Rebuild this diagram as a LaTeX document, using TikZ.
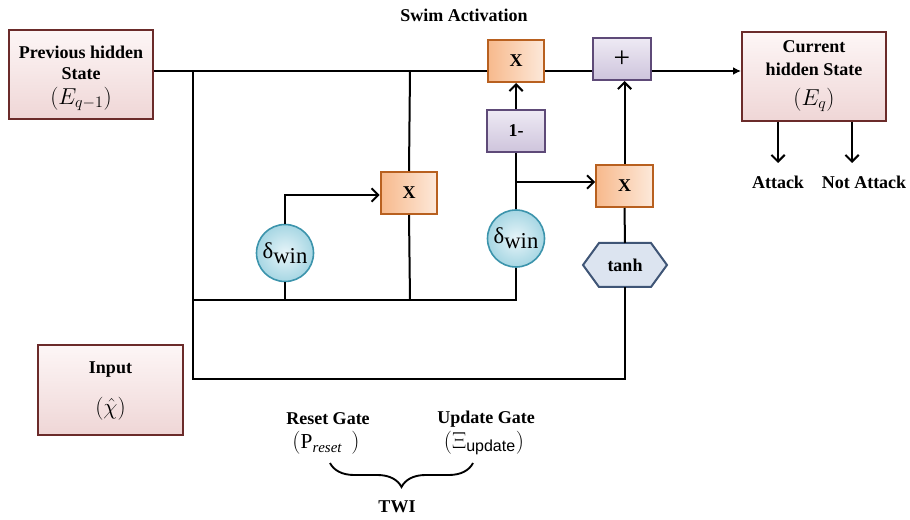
\documentclass[tikz,border=0pt]{standalone}
\usepackage{fontspec}
\setmainfont{Liberation Serif}
\newfontfamily\sansf{Liberation Sans}
\usetikzlibrary{arrows.meta,shapes.geometric,decorations.pathreplacing,calc}
\definecolor{pinkbd}{HTML}{6B2B2A}
\definecolor{pinktop}{HTML}{FDF6F6}
\definecolor{pinkbot}{HTML}{EFD6D6}
\definecolor{orbd}{HTML}{B8601F}
\definecolor{orl}{HTML}{F7B98C}
\definecolor{orr}{HTML}{FDE9DA}
\definecolor{purbd}{HTML}{5E4A78}
\definecolor{purtop}{HTML}{EEEAF4}
\definecolor{purbot}{HTML}{CEC4DC}
\definecolor{cybd}{HTML}{3C94AC}
\definecolor{cyin}{HTML}{E8F5F9}
\definecolor{cyout}{HTML}{A6D6E3}
\definecolor{hexbd}{HTML}{3F5576}
\definecolor{hexfill}{HTML}{DCE4F0}
\tikzset{
  txt/.style={font=\fontsize{13.5}{16.5}\selectfont\bfseries},
  pinkbox/.style={draw=pinkbd, line width=1.5pt, top color=pinktop, bottom color=pinkbot,
    align=center, minimum width=108pt, minimum height=66.75pt, inner sep=0pt, txt},
  obox/.style={draw=orbd, line width=1.5pt, left color=orl, right color=orr,
    minimum width=42.5pt, minimum height=31.5pt, inner sep=0pt, txt},
  pbox/.style={draw=purbd, line width=1.5pt, top color=purtop, bottom color=purbot,
    minimum width=43pt, minimum height=31.5pt, inner sep=0pt, txt},
  dcirc/.style={circle, draw=cybd, line width=1.2pt, inner color=cyin, outer color=cyout,
    minimum size=42.75pt, inner sep=0pt, font=\fontsize{17}{17}\selectfont},
  wire/.style={line width=1.5pt, black},
  arr/.style={wire, -{Straight Barb[length=5pt,width=10pt]}},
  farr/.style={wire, -{Latex[length=6pt,width=6pt]}},
  lbl/.style={txt, inner sep=0pt},
  math/.style={font=\fontsize{16}{18}\selectfont, inner sep=0pt},
  bigm/.style={font=\fontsize{18}{18}\selectfont, inner sep=0pt}
}
\begin{document}
\begin{tikzpicture}[x=0.75pt,y=-0.75pt]
\useasboundingbox (0,0) rectangle (910,520);
% boxes
\node[pinkbox] (prev) at (81,74.5) {};
\node[lbl] (prevt) at (81,52) {Previous hidden};
\node[lbl] (prevs) at (81,74) {State};
\node[bigm] (prevm) at (81,99) {$(E_{q-1})$};
\node[pinkbox] (cur) at (814,76.5) {};
\node[lbl] (curt) at (814,47) {Current};
\node[lbl] (curs) at (814,69) {hidden State};
\node[bigm] (curm) at (814,100) {$(E_{q})$};
\node[pinkbox, minimum width=108.75pt, minimum height=67.5pt] (inp) at (110.5,390) {};
\node[lbl] (inpt) at (110.5,370) {Input};
\node[font=\fontsize{17}{17}\selectfont, inner sep=0pt] (inpm) at (110.5,409) {$(\hat{\chi})$};
\node[obox] (xtop) at (516,61) {X};
\node[pbox] (plus) at (622,59) {\fontsize{22}{22}\selectfont\mdseries +};
\node[pbox] (one) at (516,131) {1-};
\node[obox] (xleft) at (409,193) {X};
\node[obox] (xright) at (624.5,186) {X};
\node[dcirc] (dl) at (285,253) {δ\raisebox{-4pt}{win}};
\node[dcirc] (dr) at (516,238.5) {δ\raisebox{-4pt}{win}};
% tanh hexagon
\coordinate (h1) at (583,265);
\coordinate (h2) at (599,243);
\coordinate (h3) at (651,243);
\coordinate (h4) at (667,265);
\coordinate (h5) at (651,287);
\coordinate (h6) at (599,287);
\draw[draw=hexbd, fill=hexfill, line width=1.5pt, line join=miter] (h1)--(h2)--(h3)--(h4)--(h5)--(h6)--cycle;
\node[lbl] (tanh) at (625,265) {tanh};
\coordinate (htop) at (625,243);
\coordinate (hbot) at (625,287);
% junction coordinates
\coordinate (m1) at (193,71);
\coordinate (m2) at (410,71);
\coordinate (b1) at (193,300);
\coordinate (b2) at (410,300);
\coordinate (b3) at (285,300);
\coordinate (b4) at (516,300);
\coordinate (l1) at (193,379);
\coordinate (l2) at (625,379);
\coordinate (k1) at (285,195);
\coordinate (r1) at (516,182);
\coordinate (a1) at (778,163);
\coordinate (a2) at (852,163);
% wires
\draw[wire] (prev.east |- m1) -- (xtop.west |- m1);
\draw[wire] (xtop.east |- m1) -- (plus.west |- m1);
\draw[farr] (plus.east |- m1) -- (cur.west |- m1);
\draw[wire] (m1) -- (l1) -- (l2) -- (hbot);
\draw[wire] (m2) -- (xleft.north);
\draw[wire] (xleft.south) -- (b2);
\draw[wire] (b1) -- (b4) -- (dr.south);
\draw[wire] (dl.south) -- (b3);
\draw[arr] (dl.north) -- (k1) -- (xleft.west |- k1);
\draw[arr] (one.north) -- (xtop.south);
\draw[wire] (one.south) -- (dr.north);
\draw[arr] (r1) -- (xright.west |- r1);
\draw[arr] (xright.north) -- (xright.north |- plus.south);
\draw[wire] (xright.south) -- (htop);
\draw[arr] (cur.south -| a1) -- (a1);
\draw[arr] (cur.south -| a2) -- (a2);
% labels
\node[lbl] (att) at (778,182) {Attack};
\node[lbl] (natt) at (864,182) {Not Attack};
\node[lbl] (swim) at (464,15) {Swim Activation};
\node[lbl] (rg) at (328,419) {Reset Gate};
\node[math] (rgm) at (326,443) {$(\mathrm{P}_{\mathit{reset}}\ \,)$};
\node[lbl] (ug) at (486,419) {Update Gate};
\node[math] (ugm) at (484,443) {$(\Xi_{\mbox{\sansf\fontsize{12}{12}\selectfont update}})$};
\coordinate (br1) at (330,463);
\coordinate (br2) at (473,463);
\draw[wire, line width=1.4pt, decorate, decoration={brace, mirror, amplitude=18pt}] (br1) -- (br2);
\node[lbl] (twi) at (397,507) {TWI};
\end{tikzpicture}
\end{document}
